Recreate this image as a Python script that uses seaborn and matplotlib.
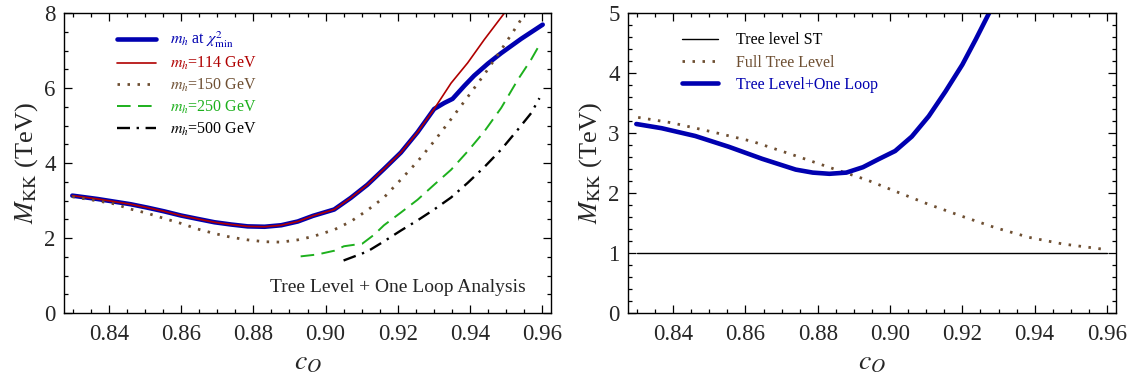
import matplotlib
matplotlib.use("Agg")
import matplotlib.pyplot as plt
import seaborn as sns
from matplotlib.ticker import MultipleLocator

# ---------------- data (left panel) ----------------
shared_x = [0.8298, 0.8368, 0.8414, 0.8460, 0.8506, 0.8553, 0.8599, 0.8645, 0.8692,
            0.8738, 0.8784, 0.8831, 0.8877, 0.8923, 0.8965, 0.9024, 0.9070, 0.9116,
            0.9162, 0.9209, 0.9255, 0.9301]
shared_y = [3.13, 3.04, 2.97, 2.90, 2.81, 2.71, 2.60, 2.51, 2.42,
            2.36, 2.31, 2.30, 2.34, 2.44, 2.59, 2.76, 3.07, 3.42,
            3.84, 4.28, 4.82, 5.44]

blue_x = shared_x + [0.9329, 0.9352, 0.9385, 0.9412, 0.9450, 0.9487, 0.9542, 0.9602]
blue_y = shared_y + [5.60, 5.71, 6.06, 6.33, 6.65, 6.93, 7.31, 7.69]

red_x = shared_x + [0.9348, 0.9394, 0.9440, 0.9496]
red_y = shared_y + [6.13, 6.67, 7.29, 8.00]

brown_x = [0.8298, 0.8368, 0.8414, 0.8460, 0.8506, 0.8553, 0.8599, 0.8645, 0.8692,
           0.8738, 0.8784, 0.8831, 0.8877, 0.8923, 0.8965, 0.9024, 0.9070, 0.9116,
           0.9162, 0.9209, 0.9255, 0.9301, 0.9348, 0.9394, 0.9440, 0.9487, 0.9533,
           0.9553]
brown_y = [3.10, 2.99, 2.91, 2.77, 2.66, 2.52, 2.39, 2.24, 2.12,
           2.02, 1.95, 1.90, 1.89, 1.95, 2.04, 2.22, 2.44, 2.74,
           3.08, 3.56, 4.04, 4.58, 5.17, 5.76, 6.36, 7.02, 7.69,
           8.00]

green_x = [0.8931, 0.8977, 0.9024, 0.9051, 0.9102, 0.9135, 0.9162, 0.9209, 0.9255,
           0.9301, 0.9348, 0.9394, 0.9440, 0.9487, 0.9533, 0.9570, 0.9596]
green_y = [1.51, 1.56, 1.66, 1.78, 1.85, 2.09, 2.34, 2.68, 3.02,
           3.42, 3.82, 4.31, 4.84, 5.47, 6.22, 6.76, 7.20]

black_x = [0.9050, 0.9116, 0.9162, 0.9209, 0.9255, 0.9301, 0.9348, 0.9394, 0.9440,
           0.9487, 0.9533, 0.9570, 0.9593]
black_y = [1.40, 1.64, 1.91, 2.20, 2.47, 2.76, 3.08, 3.47, 3.89,
           4.36, 4.89, 5.33, 5.73]

left_labels = [r"$m_h$ at $\chi^2_{\rm min}$", r"$m_h$=114 GeV", r"$m_h$=150 GeV",
               r"$m_h$=250 GeV", r"$m_h$=500 GeV"]

# ---------------- data (right panel) ----------------
st_x = [0.830, 0.960]
st_y = [1.0, 1.0]

full_x = [0.8303, 0.8396, 0.8507, 0.8619, 0.8739, 0.8855, 0.8935, 0.9014, 0.9107,
          0.9200, 0.9292, 0.9385, 0.9478, 0.9594]
full_y = [3.26, 3.17, 3.02, 2.86, 2.62, 2.38, 2.22, 2.03, 1.81,
          1.61, 1.42, 1.26, 1.15, 1.06]

loop_x = [0.8298, 0.8368, 0.8461, 0.8554, 0.8646, 0.8739, 0.8786, 0.8832, 0.8879,
          0.8925, 0.8967, 0.9014, 0.9060, 0.9107, 0.9153, 0.9200, 0.9237, 0.9274]
loop_y = [3.15, 3.08, 2.95, 2.77, 2.57, 2.39, 2.34, 2.32, 2.34,
          2.43, 2.56, 2.70, 2.94, 3.28, 3.69, 4.14, 4.56, 5.00]

right_labels = ["Tree level ST", "Full Tree Level", "Tree Level+One Loop"]

xtick_vals = [0.84, 0.86, 0.88, 0.90, 0.92, 0.94, 0.96]
xtick_labels = ["0.84", "0.86", "0.88", "0.90", "0.92", "0.94", "0.96"]

# ---------------- styling ----------------
sns.set_style("ticks")
plt.rcParams["font.family"] = ["Liberation Serif", "DejaVu Serif"]
plt.rcParams["mathtext.fontset"] = "stix"

C_BLUE = "#0000B0"
C_RED = "#B00000"
C_BROWN = "#6E4F32"
C_GREEN = "#1DB01D"
C_BLACK = "#000000"
DOT = (0, (0.9, 2.7))

fig = plt.figure(figsize=(11.43, 3.85), dpi=100)
W, H = 1143, 385
ax1 = fig.add_axes([64 / W, 1 - 313 / H, (551 - 64) / W, 300 / H])
ax2 = fig.add_axes([628 / W, 1 - 313 / H, (1116 - 628) / W, 300 / H])


def draw(ax, x, y, color, lw, ls, label):
    sns.lineplot(x=x, y=y, ax=ax, color=color, lw=lw, linestyle=ls,
                 estimator=None, sort=False, label=label, legend=False)


# left
draw(ax1, blue_x, blue_y, C_BLUE, 3.3, "-", left_labels[0])
draw(ax1, red_x, red_y, C_RED, 1.2, "-", left_labels[1])
draw(ax1, brown_x, brown_y, C_BROWN, 2.0, DOT, left_labels[2])
draw(ax1, green_x, green_y, C_GREEN, 1.4, (0, (7, 3.8)), left_labels[3])
draw(ax1, black_x, black_y, C_BLACK, 1.7, (0, (5.5, 2.8, 1, 2.8)), left_labels[4])

# right
draw(ax2, st_x, st_y, C_BLACK, 1.0, "-", right_labels[0])
draw(ax2, full_x, full_y, C_BROWN, 2.0, DOT, right_labels[1])
draw(ax2, loop_x, loop_y, C_BLUE, 3.3, "-", right_labels[2])

for ax, ymin_step in [(ax1, 0.5), (ax2, 0.2)]:
    ax.set_xlim(0.8275, 0.9625)
    ax.set_xticks(xtick_vals)
    ax.set_xticklabels(xtick_labels)
    ax.xaxis.set_minor_locator(MultipleLocator(0.005))
    ax.yaxis.set_minor_locator(MultipleLocator(ymin_step))
    ax.tick_params(which="both", direction="in", top=True, right=True,
                   labelsize=16.5, color="black", width=0.9)
    ax.tick_params(which="major", length=5.5)
    ax.tick_params(which="minor", length=3)
    ax.tick_params(axis="x", pad=8)
    ax.tick_params(axis="y", pad=6)
    for s in ax.spines.values():
        s.set_visible(True)
        s.set_color("black")
        s.set_linewidth(1.0)
    ax.set_xlabel(r"$c_O$", fontsize=20, labelpad=4)
    ax.set_ylabel(r"$M_{\rm KK}$ (TeV)", fontsize=19, labelpad=3)

ax1.set_ylim(0, 8)
ax1.set_yticks([0, 2, 4, 6, 8])
ax2.set_ylim(0, 5)
ax2.set_yticks([0, 1, 2, 3, 4, 5])

leg1 = ax1.legend(loc="upper left", bbox_to_anchor=(0.108, 0.945), frameon=False,
                  fontsize=11.5, handlelength=2.45, handletextpad=0.9,
                  labelspacing=0.3, borderpad=0, borderaxespad=0)
for t, l in zip(leg1.get_texts(), leg1.get_lines()):
    t.set_color(l.get_color())

leg2 = ax2.legend(loc="upper left", bbox_to_anchor=(0.11, 0.935), frameon=False,
                  fontsize=11.5, handlelength=2.3, handletextpad=1.1,
                  labelspacing=0.38, borderpad=0, borderaxespad=0)
for t, l in zip(leg2.get_texts(), leg2.get_lines()):
    t.set_color(l.get_color())

ax1.text(0.948, 0.085, "Tree Level + One Loop Analysis", transform=ax1.transAxes,
         ha="right", va="center", fontsize=14)

fig.savefig("out.png", dpi=100)
